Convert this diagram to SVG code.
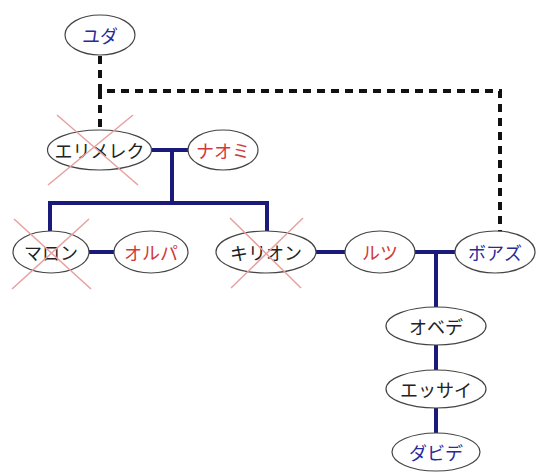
<svg xmlns="http://www.w3.org/2000/svg" width="537" height="475" viewBox="0 0 537 475">
<style>
.n{fill:#fff;stroke:#444;stroke-width:1.2}
.t{font-family:"Noto Sans CJK JP","Noto Sans",sans-serif;font-size:18px;text-anchor:middle;dominant-baseline:central}
.k{fill:#222}.r{fill:#d03a3a}.b{fill:#2a2a9a}
.l{stroke:#1a1a7a;stroke-width:4;fill:none}
.d{stroke:#111;stroke-width:4;fill:none;stroke-dasharray:8 6}
.x{stroke:#e8a0a0;stroke-width:1.5}
</style>
<rect width="537" height="475" fill="#fff"/>
<g id="connectors">
<path class="d" d="M100,56 V91 H500 V232"/>
<path class="d" d="M100,91 V130"/>
<path class="l" d="M152,150 H189"/>
<path class="l" d="M172,150 V203"/>
<path class="l" d="M50,231 V203 H267 V231"/>
<path class="l" d="M88,252 H114"/>
<path class="l" d="M316,252 H345"/>
<path class="l" d="M415,252 H455"/>
<path class="l" d="M436,252 V307"/>
<path class="l" d="M436,345 V370"/>
<path class="l" d="M436,407 V433"/>
</g>
<g id="yuda"><ellipse class="n" cx="100" cy="35" rx="35" ry="20"/><text class="t b" x="100" y="35">ユダ</text></g>
<g id="elimelech"><ellipse class="n" cx="99.5" cy="150" rx="52" ry="20"/><text class="t k" x="99.5" y="150">エリメレク</text>
<path class="x" d="M57,115 L138,185 M133,115 L48,185"/></g>
<g id="naomi"><ellipse class="n" cx="223" cy="150" rx="35" ry="20"/><text class="t r" x="223" y="150">ナオミ</text></g>
<g id="mahlon"><ellipse class="n" cx="51" cy="252" rx="38" ry="21"/><text class="t k" x="51" y="252">マロン</text>
<path class="x" d="M14,219 L91,289 M89,219 L12,289"/></g>
<g id="orpah"><ellipse class="n" cx="151" cy="252" rx="37" ry="21"/><text class="t r" x="151" y="252">オルパ</text></g>
<g id="chilion"><ellipse class="n" cx="266" cy="252" rx="50" ry="21"/><text class="t k" x="266" y="252">キリオン</text>
<path class="x" d="M230,218 L301,288 M303,218 L231,288"/></g>
<g id="ruth"><ellipse class="n" cx="380" cy="252" rx="35" ry="21"/><text class="t r" x="380" y="252">ルツ</text></g>
<g id="boaz"><ellipse class="n" cx="495" cy="252" rx="40" ry="21"/><text class="t b" x="495" y="252">ボアズ</text></g>
<g id="obed"><ellipse class="n" cx="436" cy="326" rx="50" ry="19"/><text class="t k" x="436" y="326">オベデ</text></g>
<g id="jesse"><ellipse class="n" cx="436" cy="389" rx="50" ry="19"/><text class="t k" x="436" y="389">エッサイ</text></g>
<g id="david"><ellipse class="n" cx="436" cy="452" rx="44" ry="19"/><text class="t b" x="436" y="452">ダビデ</text></g>
</svg>
